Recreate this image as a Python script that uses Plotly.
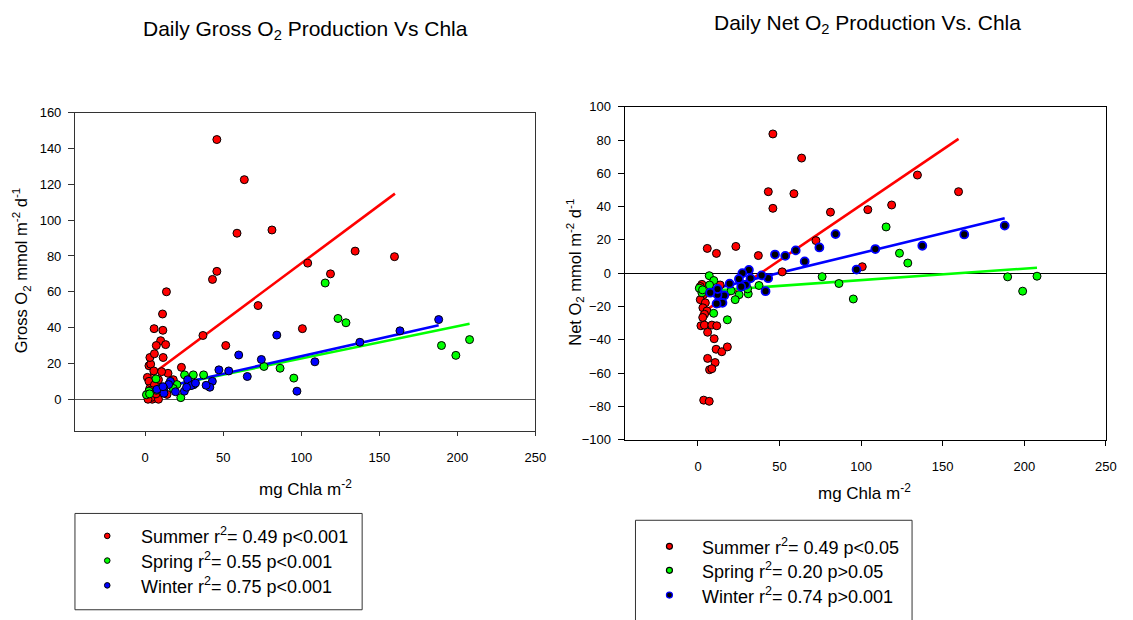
import plotly.graph_objects as go

# Chlorophyll a (mg Chla m-2) with daily gross and net O2 production (mmol m-2 d-1)
summer_chla = [45.9, 63.5, 43.1, 58.8, 45.9, 134.5, 159.7, 81.2, 104.1, 118.7, 72.3, 100.7, 51.6, 37.0, 23.2,
               5.7, 11.3, 2.4, 1.4, 13.6, 2.4, 3.5, 1.4, 4.5, 3.0, 5.5, 4.0, 2.9, 1.8, 3.9, 8.5, 11.5, 5.9,
               9.9, 11.1, 14.6, 18.0, 5.9, 10.5, 7.1, 8.5, 3.5, 6.9, 14.0, 13.1]
summer_gross = [145.0, 122.6, 66.9, 92.7, 71.4, 82.7, 79.6, 94.5, 76.0, 70.0, 52.3, 39.4, 30.0, 35.6, 17.8,
                39.4, 38.5, 18.7, 12.2, 60.0, 10.0, 19.6, 2.2, 0.0, 23.3, 15.8, 1.0, 6.0, 0.0, 4.0, 10.9, 23.3, 25.4,
                32.7, 47.6, 14.5, 10.9, 8.0, 15.4, 30.0, 0.0, 5.0, 3.0, 2.7, 30.5]
summer_net = [83.7, 69.2, 49.0, 47.8, 39.0, 59.0, 49.0, 36.7, 38.2, 41.0, 19.6, 3.9, 0.8, 10.6, 16.1,
              14.9, 11.9, -6.7, -8.0, -7.1, -11.0, -12.9, -15.9, -17.8, -20.8, -22.7, -24.7, -26.6, -31.6, -31.2,
              -31.2, -31.6, -35.5, -39.4, -45.7, -47.2, -44.3, -51.2, -53.7, -58.0, -57.4, -76.3, -77.0, -13.0, -18.0]

spring_chla = [115.3, 123.5, 128.6, 189.8, 199.0, 207.8, 95.2, 86.4, 76.1, 37.4, 30.8, 25.2, 22.8, 20.3, 18.0,
               9.6, 6.9, 9.7, 7.1, 2.4, 0.8, 2.8, 30.4]
spring_gross = [64.9, 45.1, 42.7, 30.0, 24.5, 33.3, 11.8, 17.3, 18.3, 13.6, 13.6, 13.6, 0.9, 8.2, 6.0,
                5.0, 11.4, 6.0, 5.0, 4.5, 2.5, 3.0, 8.0]
spring_net = [27.8, 12.0, 6.1, -2.2, -10.8, -1.8, -15.5, -6.2, -2.1, -7.4, -12.4, -12.9, -15.9, -10.6, -28.0,
              -24.1, -1.5, -4.4, -7.1, -11.8, -9.0, -10.0, -9.4]

winter_chla = [188.0, 163.2, 137.5, 84.3, 108.7, 97.2, 74.4, 65.4, 59.9, 53.5, 47.2, 43.0, 41.4, 39.0, 31.2,
               27.2, 29.3, 32.2, 25.1, 26.5, 19.4, 16.1, 15.0, 12.0, 12.0, 7.5, 11.4]
winter_gross = [44.5, 38.2, 31.8, 35.8, 20.9, 4.5, 22.2, 12.7, 24.7, 15.8, 16.4, 10.0, 6.7, 7.8, 8.2,
                10.9, 7.6, 9.0, 4.5, 6.7, 4.2, 10.0, 8.2, 6.0, 3.3, 5.5, 7.0]
winter_net = [28.6, 23.3, 16.5, 23.5, 14.5, 2.2, 15.5, 7.1, 13.7, 10.4, 11.2, -3.0, -10.8, -1.3, 2.0,
              0.0, -7.0, -3.1, -3.5, -8.1, -6.3, -13.4, -17.8, -12.9, -9.5, -11.7, -18.3]

# Linear regression lines (end points over each season's Chla range)
summer_gross_fit_x = [1.3, 160.0]
summer_gross_fit_y = [11.9, 114.8]
spring_gross_fit_x = [0.8, 207.8]
spring_gross_fit_y = [4.9, 42.2]
winter_gross_fit_x = [7.5, 188.0]
winter_gross_fit_y = [5.8, 41.3]

summer_net_fit_x = [1.4, 159.7]
summer_net_fit_y = [-24.6, 80.7]
spring_net_fit_x = [0.8, 207.8]
spring_net_fit_y = [-11.0, 3.3]
winter_net_fit_x = [7.5, 188.0]
winter_net_fit_y = [-9.9, 33.0]

gross_legend = ["Summer r<sup>2</sup>= 0.49 p&lt;0.001",
                "Spring r<sup>2</sup>= 0.55 p&lt;0.001",
                "Winter r<sup>2</sup>= 0.75 p&lt;0.001"]
net_legend = ["Summer r<sup>2</sup>= 0.49 p&lt;0.05",
              "Spring r<sup>2</sup>= 0.20 p&gt;0.05",
              "Winter r<sup>2</sup>= 0.74 p&gt;0.001"]

x_ticks = [0, 50, 100, 150, 200, 250]
gross_ticks = [0, 20, 40, 60, 80, 100, 120, 140, 160]
net_ticks = [-100, -80, -60, -40, -20, 0, 20, 40, 60, 80, 100]

W, H = 1133, 620
FONT = "Liberation Sans, Arial, sans-serif"
RED, GREEN, BLUE = "#FF0000", "#00FF00", "#0000FF"


def px(x):
    return x / W


def py(y):
    return 1 - y / H


fig = go.Figure()

# regression lines (drawn beneath the points)
for fx, fy, col, xa, ya in [
    (summer_gross_fit_x, summer_gross_fit_y, RED, "x", "y"),
    (spring_gross_fit_x, spring_gross_fit_y, GREEN, "x", "y"),
    (winter_gross_fit_x, winter_gross_fit_y, BLUE, "x", "y"),
    (summer_net_fit_x, summer_net_fit_y, RED, "x2", "y2"),
    (spring_net_fit_x, spring_net_fit_y, GREEN, "x2", "y2"),
    (winter_net_fit_x, winter_net_fit_y, BLUE, "x2", "y2"),
]:
    fig.add_trace(go.Scatter(x=fx, y=fy, mode="lines", line=dict(color=col, width=2.6),
                             xaxis=xa, yaxis=ya, showlegend=False, hoverinfo="skip"))

# scatter points
for xs, ys, fill, edge, ew, xa, ya in [
    (summer_chla, summer_gross, RED, "#000000", 1, "x", "y"),
    (spring_chla, spring_gross, GREEN, "#000000", 1, "x", "y"),
    (winter_chla, winter_gross, BLUE, "#000000", 1, "x", "y"),
    (summer_chla, summer_net, RED, "#000000", 1, "x2", "y2"),
    (spring_chla, spring_net, GREEN, "#000000", 1, "x2", "y2"),
    (winter_chla, winter_net, "#000000", BLUE, 1.8, "x2", "y2"),
]:
    fig.add_trace(go.Scatter(x=xs, y=ys, mode="markers",
                             marker=dict(size=8, color=fill, line=dict(color=edge, width=ew)),
                             xaxis=xa, yaxis=ya, showlegend=False))

tickfont = dict(family=FONT, size=13, color="#000000")

fig.update_layout(
    width=W, height=H,
    margin=dict(l=0, r=0, t=0, b=0),
    paper_bgcolor="white", plot_bgcolor="white",
    showlegend=False,
    xaxis=dict(domain=[px(75.7), px(540.7)], range=[-45, 250], tickvals=x_ticks,
               showgrid=False, zeroline=False, showline=True, mirror=True,
               linecolor="#333333", linewidth=1, ticks="outside", ticklen=4,
               tickcolor="#333333", tickfont=tickfont, ticklabelstandoff=10, anchor="y"),
    yaxis=dict(domain=[1 - 435 / H, 1 - 108.3 / H], range=[-18, 160], tickvals=gross_ticks,
               showgrid=False, zeroline=True, zerolinecolor="#555555", zerolinewidth=1.2,
               showline=True, mirror=True, linecolor="#333333", linewidth=1,
               ticks="outside", ticklen=6, tickcolor="#333333", tickfont=tickfont,
               ticklabelstandoff=4, anchor="x"),
    xaxis2=dict(domain=[px(630.7), px(1116.7)], range=[-45, 250], tickvals=x_ticks,
                showgrid=False, zeroline=False, showline=True, mirror=True,
                linecolor="#000000", linewidth=1, ticks="outside", ticklen=5,
                tickcolor="#000000", tickfont=tickfont, ticklabelstandoff=10, anchor="y2"),
    yaxis2=dict(domain=[1 - 443.3 / H, 1 - 102.3 / H], range=[-100, 100], tickvals=net_ticks,
                showgrid=False, zeroline=True, zerolinecolor="#000000", zerolinewidth=1,
                showline=True, mirror=True, linecolor="#000000", linewidth=1,
                ticks="outside", ticklen=6, tickcolor="#000000", tickfont=tickfont,
                ticklabelstandoff=4, anchor="x2"),
)

annotations = []


def add_text(text, x, y, size, angle=0, xanchor="center"):
    annotations.append(dict(text=text, x=px(x), y=py(y), xref="paper", yref="paper",
                            xanchor=xanchor, yanchor="middle", showarrow=False, textangle=angle,
                            font=dict(family=FONT, size=size, color="#000000")))


# panel titles
add_text("Daily Gross O<sub>2</sub> Production Vs Chla", 308, 24, 21)
add_text("Daily Net O<sub>2</sub> Production Vs. Chla", 876, 17, 21)

# axis titles
add_text("Gross O<sub>2</sub> mmol m<sup>-2</sup> d<sup>-1</sup>", 22, 270, 16.5, angle=-90)
add_text("Net O<sub>2</sub> mmol m<sup>-2</sup> d<sup>-1</sup>", 581, 272, 16.5, angle=-90)
add_text("mg Chla m<sup>-2</sup>", 308, 493, 17)
add_text("mg Chla m<sup>-2</sup>", 873, 497, 17)

shapes = [
    dict(type="rect", xref="paper", yref="paper", x0=px(75.7), x1=px(365.7), y0=py(617.7), y1=py(519),
         line=dict(color="#333333", width=1), fillcolor="rgba(0,0,0,0)"),
    dict(type="rect", xref="paper", yref="paper", x0=px(641.7), x1=px(921), y0=py(630), y1=py(526),
         line=dict(color="#333333", width=1), fillcolor="rgba(0,0,0,0)"),
]

# legend entries
for label, fill, edge, ry in zip(gross_legend, [RED, GREEN, BLUE], ["#000000"] * 3, [542, 567.3, 592.7]):
    shapes.append(dict(type="circle", xref="paper", yref="paper", xsizemode="pixel", ysizemode="pixel",
                       xanchor=px(108.3), yanchor=py(ry), x0=-2.8, x1=2.8, y0=-2.8, y1=2.8,
                       fillcolor=fill, line=dict(color=edge, width=1)))
    add_text(label, 140, ry, 18, xanchor="left")

for label, fill, edge, ry in zip(net_legend, [RED, GREEN, "#000000"], ["#000000", "#000000", BLUE],
                                 [552.7, 577.3, 602.7]):
    shapes.append(dict(type="circle", xref="paper", yref="paper", xsizemode="pixel", ysizemode="pixel",
                       xanchor=px(676), yanchor=py(ry), x0=-3, x1=3, y0=-3, y1=3,
                       fillcolor=fill, line=dict(color=edge, width=1.2)))
    add_text(label, 706.7, ry, 18, xanchor="left")

fig.update_layout(annotations=annotations, shapes=shapes)

fig.write_html("out.html")
